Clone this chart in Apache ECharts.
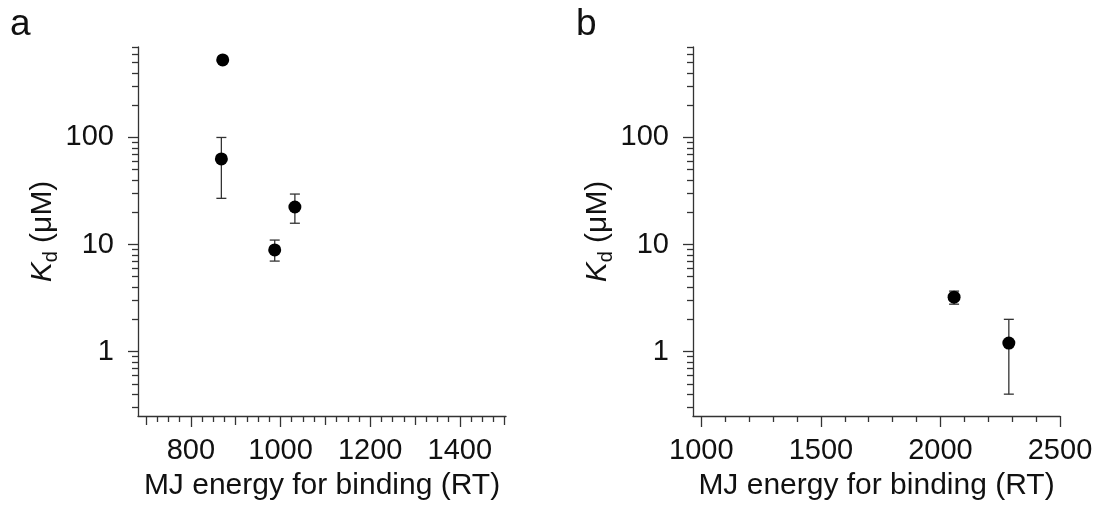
<!DOCTYPE html>
<html>
<head>
<meta charset="utf-8">
<script src="https://cdn.jsdelivr.net/npm/echarts@6/dist/echarts.min.js"></script>
<style>
  html, body { margin: 0; padding: 0; background: #fff; }
  #chart { width: 1099px; height: 507px; }
</style>
</head>
<body>
<div id="chart"></div>
<script>
// Panel a: MJ binding energy vs. Kd (μM); null = no error bar
const energyA = [871, 868, 987, 1032];
const kdA     = [530, 63, 8.9, 22.4];
const kdLowA  = [null, 27, 7.0, 15.8];
const kdHighA = [null, 100, 11, 29.6];

// Panel b
const energyB = [2057, 2286];
const kdB     = [3.22, 1.2];
const kdLowB  = [2.77, 0.40];
const kdHighB = [3.67, 2.0];

// Tick values
const yMajorTicks = [1, 10, 100];
const yMinorTicks = [0.3, 0.4, 0.5, 0.6, 0.7, 0.8, 0.9,
                     2, 3, 4, 5, 6, 7, 8, 9,
                     20, 30, 40, 50, 60, 70, 80, 90,
                     200, 300, 400, 500, 600, 700];
const xLabelsA    = [800, 1000, 1200, 1400];
const xMidTicksA  = [700, 900, 1100, 1300, 1500];
const xMinorTicksA = [725, 750, 775, 825, 850, 875, 925, 950, 975,
                      1025, 1050, 1075, 1125, 1150, 1175, 1225, 1250, 1275,
                      1325, 1350, 1375, 1425, 1450, 1475];
const xLabelsB    = [1000, 1500, 2000, 2500];
const xMinorTicksB = [1100, 1200, 1300, 1400, 1600, 1700, 1800, 1900,
                      2100, 2200, 2300, 2400];

const FONT = "'Liberation Sans', Arial, sans-serif";
const INK = '#333';
const TEXT = '#111';

function xAxisBase(grid, min, max) {
  return { type: 'value', gridIndex: grid, min: min, max: max, position: 'bottom',
           splitLine: { show: false }, axisLine: { show: false }, axisLabel: { show: false },
           axisTick: { show: false } };
}
function xMain(grid, min, max, labels) {
  return Object.assign(xAxisBase(grid, min, max), {
    name: 'MJ energy for binding (RT)', nameLocation: 'middle', nameGap: 55,
    nameTextStyle: { fontFamily: FONT, fontSize: 30, color: TEXT },
    axisLine: { show: true, onZero: false, lineStyle: { color: INK, width: 1.3 } },
    axisTick: { show: true, length: 11, customValues: labels, lineStyle: { color: INK, width: 1.3 } },
    axisLabel: { show: true, customValues: labels, margin: 20, fontFamily: FONT, fontSize: 29, color: TEXT,
                 formatter: v => String(v) }
  });
}
function xTicksOnly(grid, min, max, ticks, len) {
  return Object.assign(xAxisBase(grid, min, max), {
    axisTick: { show: true, length: len, customValues: ticks, lineStyle: { color: INK, width: 1.3 } }
  });
}
function yMain(grid) {
  return { type: 'log', logBase: 10, gridIndex: grid, min: 0.25, max: 700, position: 'left',
    splitLine: { show: false },
    name: '{k|K}{d|d}{t| (μM)}', nameLocation: 'middle', nameGap: 77,
    nameTextStyle: { fontFamily: FONT, fontSize: 30, color: TEXT,
      rich: {
        k: { fontFamily: FONT, fontSize: 30, fontStyle: 'italic', lineHeight: 36, color: TEXT },
        d: { fontFamily: FONT, fontSize: 20, lineHeight: 20, verticalAlign: 'bottom', color: TEXT },
        t: { fontFamily: FONT, fontSize: 30, lineHeight: 36, color: TEXT }
      } },
    axisLine: { show: true, onZero: false, lineStyle: { color: INK, width: 1.3 } },
    axisTick: { show: true, length: 10, customValues: yMajorTicks, lineStyle: { color: INK, width: 1.3 } },
    axisLabel: { show: true, customValues: yMajorTicks, margin: 24, fontFamily: FONT, fontSize: 29, color: TEXT,
                 formatter: v => String(v) }
  };
}
function yMinor(grid) {
  return { type: 'log', logBase: 10, gridIndex: grid, min: 0.25, max: 700, position: 'left',
    splitLine: { show: false }, axisLine: { show: false }, axisLabel: { show: false },
    axisTick: { show: true, length: 6, customValues: yMinorTicks, lineStyle: { color: INK, width: 1.3 } } };
}

function zip(xs, ys) { return xs.map((x, i) => [x, ys[i]]); }
function errRows(xs, ys, lo, hi) {
  const rows = [];
  xs.forEach((x, i) => { if (lo[i] != null && hi[i] != null) rows.push([x, ys[i], lo[i], hi[i]]); });
  return rows;
}
function errorBars(xi, yi, rows) {
  return {
    type: 'custom', xAxisIndex: xi, yAxisIndex: yi, z: 2, silent: true,
    encode: { x: 0, y: 1 },
    data: rows,
    renderItem: function (params, api) {
      const x = api.value(0);
      const top = api.coord([x, api.value(3)]);
      const bot = api.coord([x, api.value(2)]);
      const half = 5;
      const style = { stroke: INK, lineWidth: 1.3 };
      return { type: 'group', children: [
        { type: 'line', shape: { x1: top[0], y1: top[1], x2: bot[0], y2: bot[1] }, style: style },
        { type: 'line', shape: { x1: top[0] - half, y1: top[1], x2: top[0] + half, y2: top[1] }, style: style },
        { type: 'line', shape: { x1: bot[0] - half, y1: bot[1], x2: bot[0] + half, y2: bot[1] }, style: style }
      ] };
    }
  };
}
function points(xi, yi, data) {
  return { type: 'scatter', xAxisIndex: xi, yAxisIndex: yi, z: 3, symbol: 'circle', symbolSize: 13,
           itemStyle: { color: '#000', opacity: 1 }, data: data };
}

const chart = echarts.init(document.getElementById('chart'), null, { renderer: 'canvas' });
chart.setOption({
  animation: false,
  backgroundColor: '#fff',
  textStyle: { fontFamily: FONT },
  grid: [
    { left: 138, top: 47, width: 368, height: 369 },
    { left: 693, top: 47, width: 367, height: 369 }
  ],
  xAxis: [
    xMain(0, 682, 1503, xLabelsA),
    xTicksOnly(0, 682, 1503, xMidTicksA, 9),
    xTicksOnly(0, 682, 1503, xMinorTicksA, 6),
    xMain(1, 965, 2500, xLabelsB),
    xTicksOnly(1, 965, 2500, xMinorTicksB, 6)
  ],
  yAxis: [ yMain(0), yMinor(0), yMain(1), yMinor(1) ],
  graphic: [
    { type: 'text', left: 10, top: 6, style: { text: 'a', font: '37px ' + FONT, fill: TEXT } },
    { type: 'text', left: 576, top: 6, style: { text: 'b', font: '37px ' + FONT, fill: TEXT } }
  ],
  series: [
    errorBars(0, 0, errRows(energyA, kdA, kdLowA, kdHighA)),
    points(0, 0, zip(energyA, kdA)),
    errorBars(3, 2, errRows(energyB, kdB, kdLowB, kdHighB)),
    points(3, 2, zip(energyB, kdB))
  ]
});
</script>
</body>
</html>
